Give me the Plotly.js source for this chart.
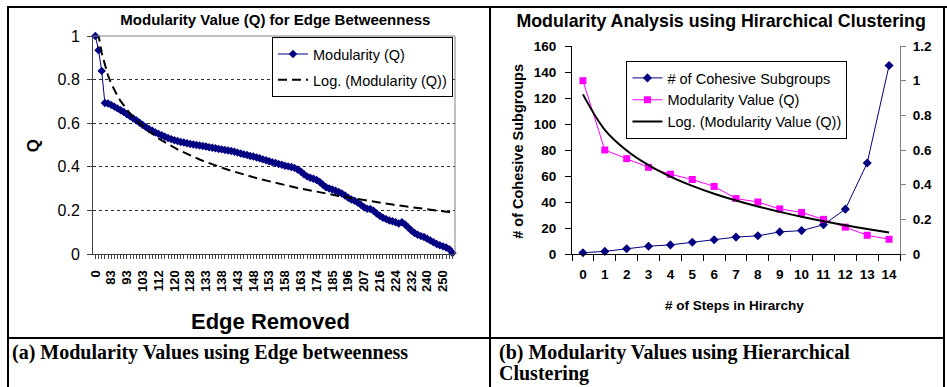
<!DOCTYPE html>
<html><head><meta charset="utf-8">
<script src="https://cdn.plot.ly/plotly-3.0.1.min.js"></script>
<style>
html,body{margin:0;padding:0;background:#fff;width:947px;height:387px;overflow:hidden;}
body{position:relative;}
.ln{position:absolute;background:#000;}
#chartA{position:absolute;left:9px;top:8px;width:480px;height:329px;}
#chartB{position:absolute;left:492px;top:8px;width:451px;height:329px;}
.cap{position:absolute;font-family:"Liberation Serif","Times New Roman",serif;font-weight:bold;font-size:20px;line-height:21px;color:#000;white-space:nowrap;}
</style></head><body>
<div class="ln" style="left:7px;top:6px;width:940px;height:2px"></div>
<div class="ln" style="left:7px;top:6px;width:2px;height:381px"></div>
<div class="ln" style="left:489px;top:6px;width:2px;height:381px"></div>
<div class="ln" style="left:943px;top:6px;width:2px;height:381px"></div>
<div class="ln" style="left:7px;top:337px;width:938px;height:2px"></div>
<div id="chartA"></div>
<div id="chartB"></div>
<div class="cap" style="left:12px;top:342px">(a) Modularity Values using Edge betweenness</div>
<div class="cap" style="left:499px;top:342px">(b) Modularity Values using Hierarchical<br>Clustering</div>
<script>
// ---------- Panel (a) data ----------
const edgeTickLabels = ['0','83','93','103','112','120','128','133','138','143','148','153','158','163','174','185','196','207','216','224','232','240','250'];
const modularityQ = [
1.000,0.935,0.840,0.693,0.690,0.684,0.676,0.668,0.659,0.651,
0.641,0.632,0.622,0.612,0.602,0.592,0.582,0.572,0.565,0.558,
0.551,0.545,0.538,0.532,0.527,0.522,0.518,0.514,0.511,0.508,
0.505,0.502,0.500,0.498,0.495,0.493,0.490,0.487,0.485,0.482,
0.480,0.477,0.475,0.472,0.469,0.465,0.461,0.457,0.454,0.450,
0.447,0.443,0.439,0.434,0.430,0.425,0.421,0.417,0.413,0.409,
0.405,0.402,0.399,0.395,0.388,0.378,0.366,0.356,0.350,0.345,
0.339,0.330,0.318,0.306,0.300,0.296,0.290,0.284,0.278,0.268,
0.258,0.250,0.244,0.236,0.226,0.214,0.208,0.206,0.198,0.186,
0.175,0.166,0.160,0.154,0.150,0.146,0.140,0.146,0.135,0.122,
0.108,0.096,0.088,0.082,0.078,0.070,0.062,0.054,0.046,0.040,
0.035,0.030,0.022,0.005];
const labelEvery = 5;

// ---------- Panel (b) data ----------
const hierSteps = ['0','1','2','3','4','5','6','7','8','9','10','11','12','13','14'];
const cohesiveSubgroups = [1,2,4,6,7,9,11,13,14,17,18,22.5,34.5,70,145];
const modularityValue = [1.0,0.6,0.55,0.5,0.46,0.43,0.39,0.32,0.3,0.26,0.24,0.2,0.155,0.108,0.085];

// Excel-style logarithmic trendline: least squares fit of y = a ln(x) + b, x = 1..N
function logFit(ys){
  const n = ys.length; let sx=0, sy=0, sxx=0, sxy=0;
  ys.forEach((y,i)=>{const lx=Math.log(i+1); sx+=lx; sy+=y; sxx+=lx*lx; sxy+=lx*y;});
  const a=(n*sxy-sx*sy)/(n*sxx-sx*sx); const b=(sy-a*sx)/n;
  return ys.map((_,i)=>a*Math.log(i+1)+b);
}

const FONT = 'Liberation Sans, Arial, sans-serif';
const cfg = {staticPlot:true, displayModeBar:false};

// ---------- Chart A ----------
const idxA = modularityQ.map((_,i)=>i);
const trendA = logFit(modularityQ);
const tickValsA = edgeTickLabels.map((_,i)=>i*labelEvery);

Plotly.newPlot('chartA', [
  {x:idxA, y:modularityQ, type:'scatter', mode:'lines+markers', name:'Modularity (Q)', legendgroup:'a',
   line:{color:'#000080', width:1}, marker:{symbol:'diamond', size:6.5, color:'#000080'}, cliponaxis:false},
  {x:idxA, y:trendA, type:'scatter', mode:'lines', name:'Log. (Modularity (Q))', legendgroup:'b',
   line:{color:'#000', width:2, dash:'9px,5px'}}
], {
  width:480, height:329,
  margin:{l:84, r:34, t:28, b:83, pad:0},
  paper_bgcolor:'#fff', plot_bgcolor:'#fff',
  font:{family:FONT, size:13, color:'#000'},
  title:{text:'Modularity Value (Q) for Edge Betweenness', x:0.555, xref:'container', xanchor:'center',
         y:0.9635, yref:'container', yanchor:'middle', font:{size:15, weight:'bold', family:FONT}},
  showlegend:true,
  legend:{x:0.9945, xanchor:'right', y:0.995, yanchor:'top', bgcolor:'#fff', bordercolor:'#000', borderwidth:1,
          font:{size:14.5, family:FONT}, tracegroupgap:4},
  xaxis:{range:[-0.75,113.8], tickmode:'array', tickvals:tickValsA, ticktext:edgeTickLabels, tickangle:-90,
         tickfont:{size:13, weight:'bold', family:FONT}, ticks:'outside', ticklen:4, tickcolor:'#404040',
         showline:true, linecolor:'#404040', linewidth:1, showgrid:false, zeroline:false,
         minor:{tickmode:'linear', tick0:0, dtick:1, ticks:'outside', ticklen:4, tickcolor:'#404040', showgrid:false},
         ticklabelstandoff:6},
  yaxis:{range:[0,1], tickmode:'linear', tick0:0, dtick:0.2, ticks:'outside', ticklen:5, tickcolor:'#404040',
         tickfont:{size:16, family:FONT}, showline:true, linecolor:'#404040', linewidth:1,
         showgrid:true, gridcolor:'#303030', griddash:'3px,3px', gridwidth:1, zeroline:false, ticklabelstandoff:4},
  shapes:[
    {type:'line', xref:'paper', yref:'paper', x0:0, x1:1, y0:1, y1:1, line:{color:'#808080', width:1}},
    {type:'line', xref:'paper', yref:'paper', x0:1, x1:1, y0:0, y1:1, line:{color:'#808080', width:1}}
  ],
  annotations:[
    {text:'Q', xref:'paper', yref:'paper', x:-0.166, y:0.499, xanchor:'center', yanchor:'middle', textangle:-90,
     showarrow:false, font:{size:17, weight:'bold', family:FONT}},
    {text:'Edge Removed', xref:'paper', yref:'paper', x:0.489, y:-0.31, xanchor:'center', yanchor:'middle',
     showarrow:false, font:{size:22, weight:'bold', family:FONT}}
  ]
}, cfg);

// ---------- Chart B ----------
const trendB = logFit(modularityValue);
Plotly.newPlot('chartB', [
  {x:hierSteps, y:cohesiveSubgroups, type:'scatter', mode:'lines+markers', name:'# of Cohesive Subgroups', legendgroup:'a',
   line:{color:'#000080', width:1}, marker:{symbol:'diamond', size:7, color:'#000080'}, cliponaxis:false},
  {x:hierSteps, y:modularityValue, yaxis:'y2', type:'scatter', mode:'lines+markers', name:'Modularity Value (Q)', legendgroup:'b',
   line:{color:'#FF00FF', width:1}, marker:{symbol:'square', size:7, color:'#FF00FF'}, cliponaxis:false},
  {x:hierSteps, y:trendB, yaxis:'y2', type:'scatter', mode:'lines', name:'Log. (Modularity Value (Q))', legendgroup:'c',
   line:{color:'#000', width:2, shape:'spline'}}
], {
  width:451, height:329,
  margin:{l:80, r:43, t:38, b:83, pad:0},
  paper_bgcolor:'#fff', plot_bgcolor:'#fff',
  font:{family:FONT, size:13, color:'#000'},
  title:{text:'Modularity Analysis using Hirarchical Clustering', x:0.508, xref:'container', xanchor:'center',
         y:0.961, yref:'container', yanchor:'middle', font:{size:17.8, weight:'bold', family:FONT}},
  showlegend:true,
  legend:{x:0.166, xanchor:'left', y:0.928, yanchor:'top', bgcolor:'#fff', bordercolor:'#000', borderwidth:1,
          font:{size:14.5, family:FONT}, tracegroupgap:0},
  xaxis:{type:'category', range:[-0.5,14.5], tickson:'boundaries', ticks:'outside', ticklen:6, tickcolor:'#000',
         tickangle:0, showline:true, linecolor:'#000', linewidth:1, showgrid:false, zeroline:false,
         tickfont:{size:13.5, weight:'bold', family:FONT}, ticklabelstandoff:8},
  yaxis:{range:[0,160], tickmode:'linear', tick0:0, dtick:20, ticks:'outside', ticklen:6, tickcolor:'#000',
         showline:true, linecolor:'#000', showgrid:false, zeroline:false,
         tickfont:{size:13.5, weight:'bold', family:FONT}, ticklabelstandoff:6},
  yaxis2:{overlaying:'y', side:'right', range:[0,1.2], tickmode:'linear', tick0:0, dtick:0.2, ticks:'outside', ticklen:5,
          tickcolor:'#808080', showline:true, linecolor:'#808080', showgrid:false, zeroline:false,
          tickfont:{size:13.5, weight:'bold', family:FONT}, ticklabelstandoff:4},
  annotations:[
    {text:'# of Cohesive Subgroups', xref:'paper', yref:'paper', x:-0.163, y:0.494, xanchor:'center', yanchor:'middle',
     textangle:-90, showarrow:false, font:{size:14.5, weight:'bold', family:FONT}},
    {text:'# of Steps in Hirarchy', xref:'paper', yref:'paper', x:0.4965, y:-0.248, xanchor:'center', yanchor:'middle',
     showarrow:false, font:{size:13.5, weight:'bold', family:FONT}}
  ]
}, cfg);
</script>
</body></html>
